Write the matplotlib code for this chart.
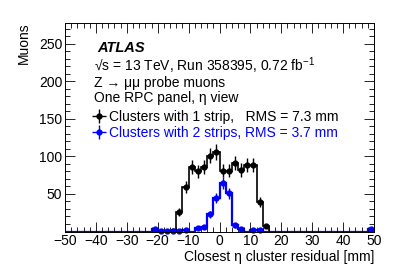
import numpy as np
import matplotlib.pyplot as plt
from matplotlib.ticker import MultipleLocator

plt.rcParams['font.family'] = ['Liberation Sans', 'DejaVu Sans']
plt.rcParams['mathtext.fontset'] = 'custom'
plt.rcParams['mathtext.rm'] = 'Liberation Sans'
plt.rcParams['mathtext.it'] = 'Liberation Sans:italic'

# bin centres (2 mm bins) and counts
centers_1 = [-15, -13, -11, -9, -7, -5, -3, -1, 1, 3, 5, 7, 9, 11, 13, 15]
counts_1 = [1, 26, 59, 86, 80, 86, 101, 106, 81, 81, 91, 82, 88, 88, 39, 7]

centers_2 = [-21, -19, -17, -15, -13, -11, -7, -5, -3, -1, 1, 3, 5, 7, 11, 13, 49]
counts_2 = [3, 1, 1, 1, 1, 2, 5, 6, 23, 45, 64, 51, 8, 3, 2, 2, 3]

xticks = [-50, -40, -30, -20, -10, 0, 10, 20, 30, 40, 50]
yticks = [50, 100, 150, 200, 250]

edges = np.arange(-50, 52, 2)

def fill(centers, counts):
    h = np.zeros(len(edges) - 1)
    idx = np.searchsorted(edges, centers) - 1
    h[idx] = counts
    return h

fig = plt.figure(figsize=(4.07, 2.75), dpi=100)
ax = fig.add_axes([65 / 407, 1 - 231.5 / 275, 309 / 407, 209 / 275])

h1 = fill(centers_1, counts_1)
h2 = fill(centers_2, counts_2)

ax.stairs(h1, edges, color='black', lw=1.2)
ax.stairs(h2, edges, color='blue', lw=1.6)

c1 = np.array(centers_1); n1 = np.array(counts_1)
c2 = np.array(centers_2); n2 = np.array(counts_2)
e1 = ax.errorbar(c1, n1, yerr=np.sqrt(n1), xerr=1, fmt='o', color='black',
                 ms=3.5, lw=1.0, capsize=0)
e2 = ax.errorbar(c2, n2, yerr=np.sqrt(n2), xerr=1, fmt='o', color='blue',
                 ms=3.5, lw=1.0, capsize=0, clip_on=False)

ax.set_xlim(-50, 50)
ax.set_ylim(0, 278)
ax.set_xticks(xticks)
ax.set_xticklabels([str(t).replace('-', '\u2212') for t in xticks])
ax.set_yticks(yticks)
ax.xaxis.set_minor_locator(MultipleLocator(2))
ax.yaxis.set_minor_locator(MultipleLocator(10))
ax.tick_params(which='both', direction='in', top=True, right=True,
               labelsize=10, width=0.6, pad=2)
ax.tick_params(which='major', length=7)
ax.tick_params(which='minor', length=3.5)
for s in ax.spines.values():
    s.set_linewidth(0.7)

ax.set_xlabel('Closest \u03b7 cluster residual [mm]', fontsize=10, loc='right', labelpad=1)
ax.set_ylabel('Muons', fontsize=10, loc='top', labelpad=6)

tx = 0.095
ax.text(0.105, 0.88, 'ATLAS', transform=ax.transAxes, fontsize=10.5,
        fontweight='bold', fontstyle='italic', va='center')
ax.text(tx, 0.795, '\u221as = 13 TeV, Run 358395, 0.72 fb$^{\\mathrm{-1}}$',
        transform=ax.transAxes, fontsize=10, va='center')
ax.text(tx, 0.71, 'Z \u2192 \u03bc\u03bc probe muons', transform=ax.transAxes,
        fontsize=10, va='center')
ax.text(tx, 0.638, 'One RPC panel, \u03b7 view', transform=ax.transAxes,
        fontsize=10, va='center')

leg = ax.legend([e1, e2], ['Clusters with 1 strip,   RMS = 7.3 mm',
                           'Clusters with 2 strips, RMS = 3.7 mm'],
                loc='upper left', bbox_to_anchor=(0.07, 0.61), frameon=False,
                fontsize=10, handlelength=1.0, handletextpad=0.2,
                labelspacing=0.15, borderaxespad=0)
leg.get_texts()[1].set_color('blue')

fig.savefig('out.png', dpi=100)
